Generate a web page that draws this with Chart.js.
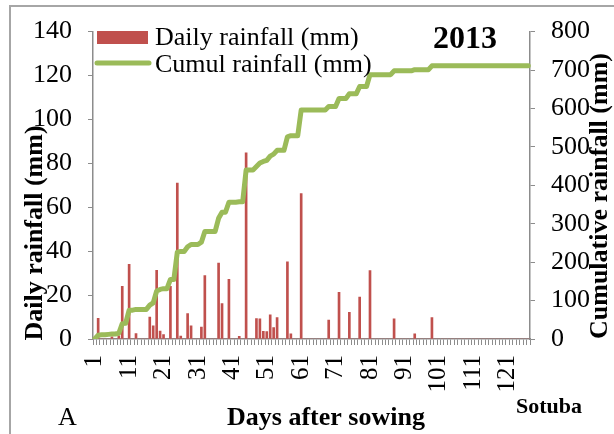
<!DOCTYPE html>
<html><head><meta charset="utf-8">
<script src="https://cdn.jsdelivr.net/npm/chart.js@4.4.1/dist/chart.umd.min.js"></script>
<style>html,body{margin:0;padding:0;background:#fff;overflow:hidden;} #wrap{position:relative;width:614px;height:434px;}</style>
</head><body><div id="wrap"><canvas id="c" width="614" height="434"></canvas></div>
<script>
const days = [1,2,3,4,5,6,7,8,9,10,11,12,13,14,15,16,17,18,19,20,21,22,23,24,25,26,27,28,29,30,31,32,33,34,35,36,37,38,39,40,41,42,43,44,45,46,47,48,49,50,51,52,53,54,55,56,57,58,59,60,61,62,63,64,65,66,67,68,69,70,71,72,73,74,75,76,77,78,79,80,81,82,83,84,85,86,87,88,89,90,91,92,93,94,95,96,97,98,99,100,101,102,103,104,105,106,107,108,109,110,111,112,113,114,115,116,117,118,119,120,121,122,123,124,125,126,127];
const dailyRain = [
  0, 9.4, 0, 0, 0, 1, 0, 1.5, 24, 0,
  34, 0, 2.5, 0, 0, 0, 10, 6, 31.3, 3.6,
  2, 0, 24, 0, 71, 1.3, 0, 11.6, 6, 0,
  0, 5.4, 28.9, 0, 0, 0, 34.6, 16.1, 0, 27.2,
  0, 0, 1.2, 0, 84.8, 0, 0, 9.3, 9.2, 3.5,
  3.4, 11, 5.2, 9.8, 0, 0, 35.2, 2.4, 0, 0,
  66.2, 0, 0, 0, 0, 0, 0, 0, 8.6, 0,
  0, 21.3, 0, 0, 12.1, 0, 0, 19.1, 0, 0,
  31.2, 0, 0, 0, 0, 0, 0, 9.2, 0, 0,
  0, 0, 0, 2.4, 0, 0, 0, 0, 9.8, 0,
  0, 0, 0, 0, 0, 0, 0, 0, 0, 0,
  0, 0, 0, 0, 0, 0, 0, 0, 0, 0,
  0, 0, 0, 0, 0, 0, 0
];
const cumulRain = [
  0, 10, 11, 11, 12, 13, 13, 15, 40, 41,
  75, 75, 77, 77, 77, 77, 88, 94, 125, 129,
  131, 131, 155, 155, 226, 228, 228, 240, 246, 246,
  246, 252, 280, 280, 280, 280, 314, 330, 330, 356,
  356, 356, 357, 357, 440, 440, 440, 449, 458, 462,
  465, 476, 481, 491, 491, 491, 526, 529, 529, 529,
  596, 596, 596, 596, 596, 596, 596, 596, 605, 605,
  605, 626, 626, 626, 638, 638, 638, 657, 657, 657,
  688, 688, 688, 688, 688, 688, 688, 698, 698, 698,
  698, 698, 698, 701, 701, 701, 701, 701, 711, 711,
  711, 711, 711, 711, 711, 711, 711, 711, 711, 711,
  711, 711, 711, 711, 711, 711, 711, 711, 711, 711,
  711, 711, 711, 711, 711, 711, 711
];
const xTickLabels = ['1','11','21','31','41','51','61','71','81','91','101','111','121'];
const leftTicks = [0,20,40,60,80,100,120,140];
const rightTicks = [0,100,200,300,400,500,600,700,800];
const seriesNames = ['Daily rainfall (mm)','Cumul rainfall (mm)'];
const yearLabel = '2013';
const siteLabel = 'Sotuba';
const panelLabel = 'A';
const xTitle = 'Days after sowing';
const yLeftTitle = 'Daily rainfall (mm)';
const yRightTitle = 'Cumulative rainfall (mm)';

const SERIF = '"Liberation Serif","Times New Roman",serif';
const RED = '#C0504D', GREEN = '#9BBB59', AXIS = '#8c8c8c';

const overlay = {
  id: 'overlay',
  beforeDraw(chart) {
    const ctx = chart.ctx;
    ctx.save();
    ctx.strokeStyle = '#a6a6a6';
    ctx.lineWidth = 2;
    ctx.strokeRect(10, 6, 700, 500);
    ctx.restore();
  },
  afterDraw(chart) {
    const ctx = chart.ctx;
    ctx.save();
    // legend
    ctx.fillStyle = RED;
    ctx.fillRect(97, 31, 51, 13);
    ctx.strokeStyle = GREEN;
    ctx.lineWidth = 5;
    ctx.lineCap = 'round';
    ctx.beginPath(); ctx.moveTo(97, 63); ctx.lineTo(149, 63); ctx.stroke();
    ctx.fillStyle = '#000';
    ctx.textAlign = 'left';
    ctx.textBaseline = 'alphabetic';
    ctx.font = '26px ' + SERIF;
    ctx.fillText(seriesNames[0], 155, 45);
    ctx.fillText(seriesNames[1], 155, 72);
    // year
    ctx.font = 'bold 32px ' + SERIF;
    ctx.fillText(yearLabel, 433, 48);
    // panel label
    ctx.font = '26px ' + SERIF;
    ctx.fillText(panelLabel, 58, 425);
    // site
    ctx.font = 'bold 22px ' + SERIF;
    ctx.fillText(siteLabel, 516, 413);
    // x title
    ctx.font = 'bold 26px ' + SERIF;
    ctx.textAlign = 'center';
    ctx.fillText(xTitle, 326, 425);
    // left title
    ctx.textBaseline = 'middle';
    ctx.save();
    ctx.translate(35, 233);
    ctx.rotate(-Math.PI / 2);
    ctx.fillText(yLeftTitle, 0, 0);
    ctx.restore();
    // right title
    ctx.save();
    ctx.translate(600, 196);
    ctx.rotate(-Math.PI / 2);
    ctx.fillText(yRightTitle, 0, 0);
    ctx.restore();
    ctx.restore();
  }
};

new Chart(document.getElementById('c'), {
  data: {
    labels: days,
    datasets: [
      { type: 'line', label: seriesNames[1], data: cumulRain, yAxisID: 'y1',
        borderColor: GREEN, borderWidth: 5, pointRadius: 0, tension: 0,
        borderJoinStyle: 'round', borderCapStyle: 'round', order: 0 },
      { type: 'bar', label: seriesNames[0], data: dailyRain, yAxisID: 'y',
        backgroundColor: RED, barThickness: 2, order: 1 }
    ]
  },
  options: {
    responsive: false, animation: false, devicePixelRatio: 1,
    layout: { padding: { top: 26, left: 0, right: 0, bottom: 0 } },
    plugins: { legend: { display: false }, tooltip: { enabled: false } },
    scales: {
      x: {
        type: 'category', offset: true,
        grid: { offset: true, drawOnChartArea: false, color: AXIS, tickLength: 6, lineWidth: 1 },
        border: { color: AXIS, width: 1.5 },
        ticks: {
          autoSkip: false, maxRotation: 90, minRotation: 90, padding: 10, color: '#000',
          font: { family: SERIF, size: 25 },
          callback(v) { const l = String(this.getLabelForValue(v)); return xTickLabels.includes(l) ? l : ''; }
        },
        afterFit(s) { s.height = 95; }
      },
      y: {
        position: 'left', min: 0, max: 140,
        afterBuildTicks(s) { s.ticks = leftTicks.map(v => ({ value: v })); },
        grid: { drawOnChartArea: false, color: AXIS, tickLength: 5 },
        border: { color: AXIS, width: 1.5 },
        ticks: { padding: 16, color: '#000', font: { family: SERIF, size: 26 } },
        afterFit(s) { s.width = 93; }
      },
      y1: {
        position: 'right', min: 0, max: 800,
        afterBuildTicks(s) { s.ticks = rightTicks.map(v => ({ value: v })); },
        grid: { drawOnChartArea: false, color: AXIS, tickLength: 5 },
        border: { color: AXIS, width: 1.5 },
        ticks: { padding: 16, color: '#000', font: { family: SERIF, size: 26 } },
        afterFit(s) { s.width = 84; }
      }
    }
  },
  plugins: [overlay]
});
</script>
</body></html>
